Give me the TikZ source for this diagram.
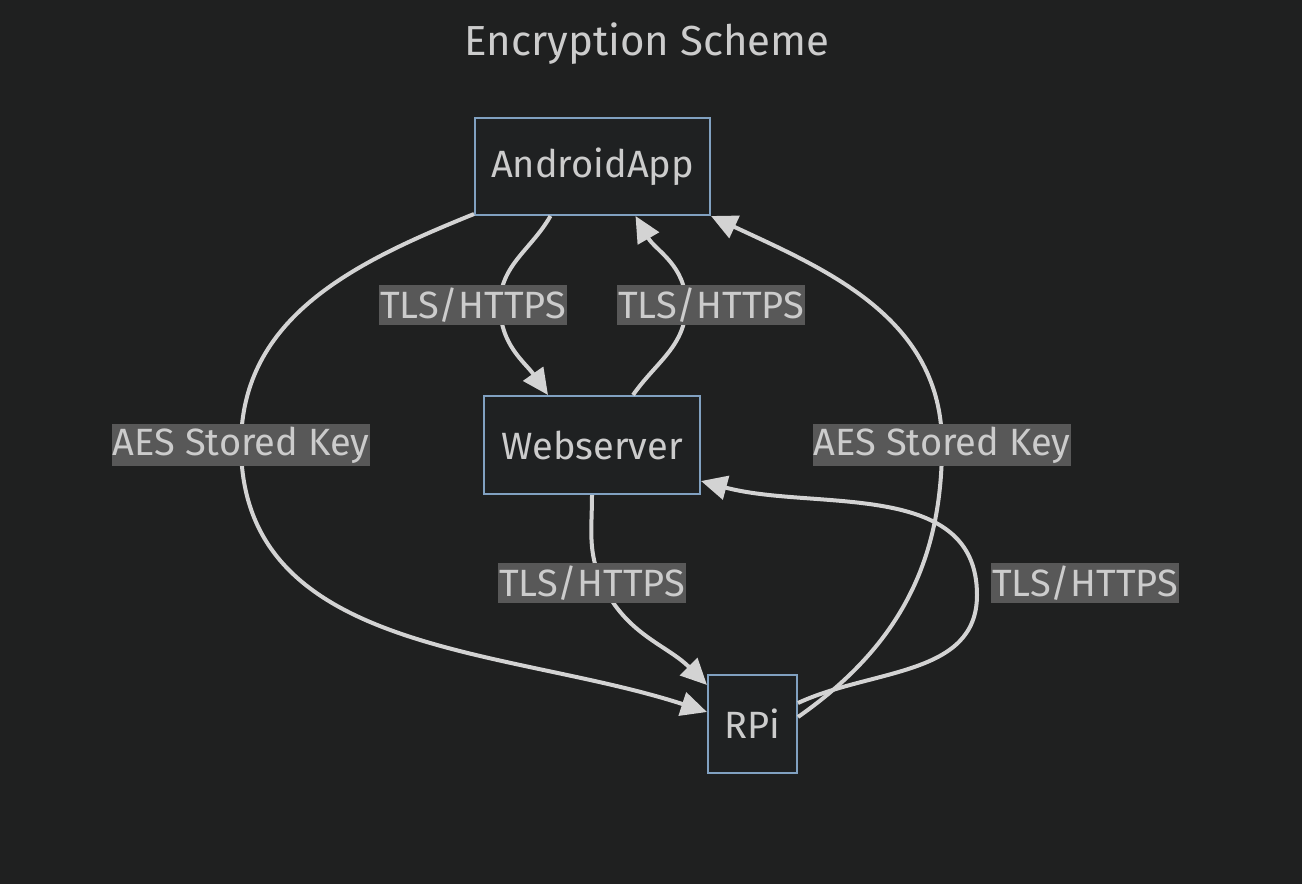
\documentclass[tikz,border=0pt]{standalone}
\usepackage{fontspec}
\setmainfont{Fira Sans}
\usepackage{tikz}
\usetikzlibrary{positioning, arrows.meta, calc}
\definecolor{canvas}{HTML}{1F2020}
\definecolor{boxfill}{HTML}{1F2122}
\definecolor{boxline}{HTML}{81A1C1}
\definecolor{ink}{HTML}{CCCCCC}
\definecolor{wire}{HTML}{D3D3D3}
\definecolor{tag}{HTML}{585858}

\begin{document}
\begin{tikzpicture}[x=1pt, y=1pt,
    box/.style={draw=boxline, fill=boxfill, line width=2pt, text=ink,
      font=\fontsize{38}{42}\selectfont, inner sep=0pt},
    link/.style={draw=wire, line width=4pt,
      -{Triangle[length=26pt, width=24pt]}},
    tagbox/.style={fill=tag, text=ink, font=\fontsize{38}{42}\selectfont,
      inner xsep=1pt, inner ysep=3pt}]
  \fill[canvas] (0,0) rectangle (1302,-884);
  \node[text=ink, font=\fontsize{42}{46}\selectfont] (title) at (647,-44)
    {Encryption Scheme};

  % the three parties
  \node[box, minimum width=235pt, minimum height=97pt] (app) at (592.5,-166.5) {AndroidApp};
  \node[box, minimum width=216pt, minimum height=98pt] (web) at (592,-445) {Webserver};
  \node[box, minimum width=89pt, minimum height=98pt] (rpi) at (752.5,-724) {RPi};

  % points the wires pass under the labels
  \coordinate (p1) at (500,-305);
  \coordinate (p2) at (686,-305);
  \coordinate (p3) at (241,-445);
  \coordinate (p4) at (942,-445);
  \coordinate (p5) at (602,-583);
  \coordinate (p6) at (977,-595);

  \draw[link] ([xshift=-42pt]app.south) to[out=-120, in=90] (p1)
    to[out=-90, in=125] ([xshift=-44pt]web.north);
  \draw[link] ([xshift=41pt]web.north) to[out=55, in=-90] (p2)
    to[out=90, in=-60] ([xshift=43pt]app.south);
  \draw[link] ([yshift=2pt]app.south west) to[out=-158, in=90] (p3)
    to[out=-90, in=162] ([yshift=12pt]rpi.west);
  \draw[link] ([yshift=7pt]rpi.east) to[out=35, in=-90] (p4)
    to[out=90, in=-25] (app.south east);
  \draw[link] (web.south) to[out=-90, in=115] (p5)
    to[out=-65, in=135] ([yshift=-11pt]rpi.north west);
  \draw[link] ([yshift=21pt]rpi.east) to[out=25, in=-90] (p6)
    to[out=90, in=-15] ([yshift=14pt]web.south east);

  % labels on the wires
  \node[tagbox] (l1) at (473,-305) {TLS/HTTPS};
  \node[tagbox] (l2) at (711,-305) {TLS/HTTPS};
  \node[tagbox] (l3) at (241,-445) {AES Stored Key};
  \node[tagbox] (l4) at (942,-445) {AES Stored Key};
  \node[tagbox] (l5) at (592,-583) {TLS/HTTPS};
  \node[tagbox] (l6) at (1085,-583) {TLS/HTTPS};
\end{tikzpicture}
\end{document}
